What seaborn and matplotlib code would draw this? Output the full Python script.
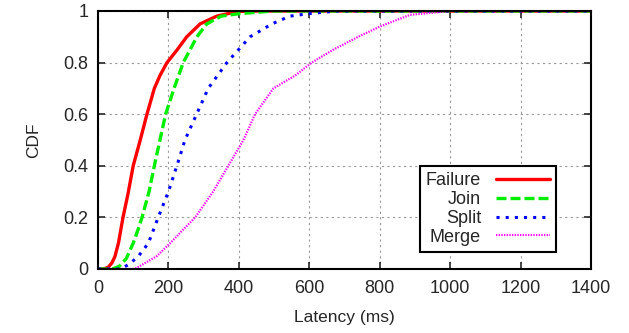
import numpy as np
import pandas as pd
import matplotlib
matplotlib.use('Agg')
import matplotlib.pyplot as plt
import seaborn as sns

# CDF curves (latency in ms, cumulative fraction)
failure_x = [0, 10, 20, 30, 40, 48, 58, 71, 85, 100, 120, 139, 160, 176, 196, 225, 252, 290, 337, 370, 400, 450, 1400]
failure_y = [0, 0, 0.002, 0.008, 0.025, 0.048, 0.1, 0.2, 0.29, 0.4, 0.5, 0.6, 0.7, 0.75, 0.8, 0.85, 0.9, 0.95, 0.98, 0.99, 0.998, 1.0, 1.0]

join_x = [0, 40, 60, 80, 100, 113, 125, 145, 160, 176, 192, 216, 242, 281, 309, 350, 403, 500, 1400]
join_y = [0, 0, 0.01, 0.04, 0.1, 0.15, 0.2, 0.3, 0.4, 0.5, 0.6, 0.7, 0.8, 0.9, 0.95, 0.98, 0.99, 1.0, 1.0]

split_x = [0, 60, 71, 90, 115, 143, 171, 200, 224, 247, 280, 313, 366, 432, 494, 545, 600, 680, 1400]
split_y = [0, 0, 0.005, 0.02, 0.05, 0.1, 0.2, 0.3, 0.4, 0.5, 0.6, 0.7, 0.8, 0.9, 0.95, 0.98, 0.99, 1.0, 1.0]

merge_x = [0, 100, 110, 130, 167, 205, 240, 276, 327, 370, 413, 446, 498, 560, 607, 668, 739, 801, 886, 1000, 1400]
merge_y = [0, 0, 0.005, 0.02, 0.05, 0.1, 0.15, 0.2, 0.3, 0.4, 0.5, 0.6, 0.7, 0.75, 0.8, 0.85, 0.9, 0.94, 0.985, 1.0, 1.0]

labels = ['Failure', 'Join', 'Split', 'Merge']
x_ticks = [0, 200, 400, 600, 800, 1000, 1200, 1400]
y_ticks = [0, 0.2, 0.4, 0.6, 0.8, 1.0]
y_tick_labels = ['0', '0.2', '0.4', '0.6', '0.8', '1']

sns.set_style('ticks')
plt.rcParams['font.family'] = ['Liberation Sans', 'DejaVu Sans']
plt.rcParams['font.size'] = 13

fig = plt.figure(figsize=(6.29, 3.33), dpi=100)
ax = fig.add_axes([0.1558, 0.1922, 0.7838, 0.7748])

series = [
    (failure_x, failure_y, '#ff0000', '-', 2.4),
    (join_x, join_y, '#00ee00', (0, (3, 1.2)), 2.4),
    (split_x, split_y, '#0000ff', (0, (1, 2)), 2.2),
    (merge_x, merge_y, '#ff00ff', (0, (0.6, 0.6)), 1.6),
]
for (xs, ys, col, ls, lw), lab in zip(series, labels):
    sns.lineplot(x=xs, y=ys, ax=ax, color=col, linestyle=ls, linewidth=lw, label=lab)

ax.set_xlim(0, 1400)
ax.set_ylim(0, 1)
ax.set_xticks(x_ticks)
ax.set_yticks(y_ticks)
ax.set_yticklabels(y_tick_labels)
ax.set_xlabel('Latency (ms)', labelpad=9, fontsize=12.5)
ax.set_ylabel('CDF', labelpad=16, fontsize=12.5)

ax.grid(True, color='#999999', linestyle=(0, (2, 3)), linewidth=0.8)
ax.tick_params(direction='in', length=5, width=1.2, top=True, right=True, labelsize=13)
ax.tick_params(axis='y', pad=7)
ax.tick_params(axis='x', pad=8)
for s in ax.spines.values():
    s.set_visible(True)
    s.set_linewidth(1.5)
    s.set_color('black')

leg = ax.legend(loc='lower right', bbox_to_anchor=(0.929, 0.066), markerfirst=False,
                fancybox=False, framealpha=1, edgecolor='black', fontsize=13,
                handlelength=3.0, labelspacing=0.1, borderpad=0.35, handletextpad=0.8,
                borderaxespad=0)
leg.get_frame().set_linewidth(1.5)

fig.savefig('out.png', dpi=100)
